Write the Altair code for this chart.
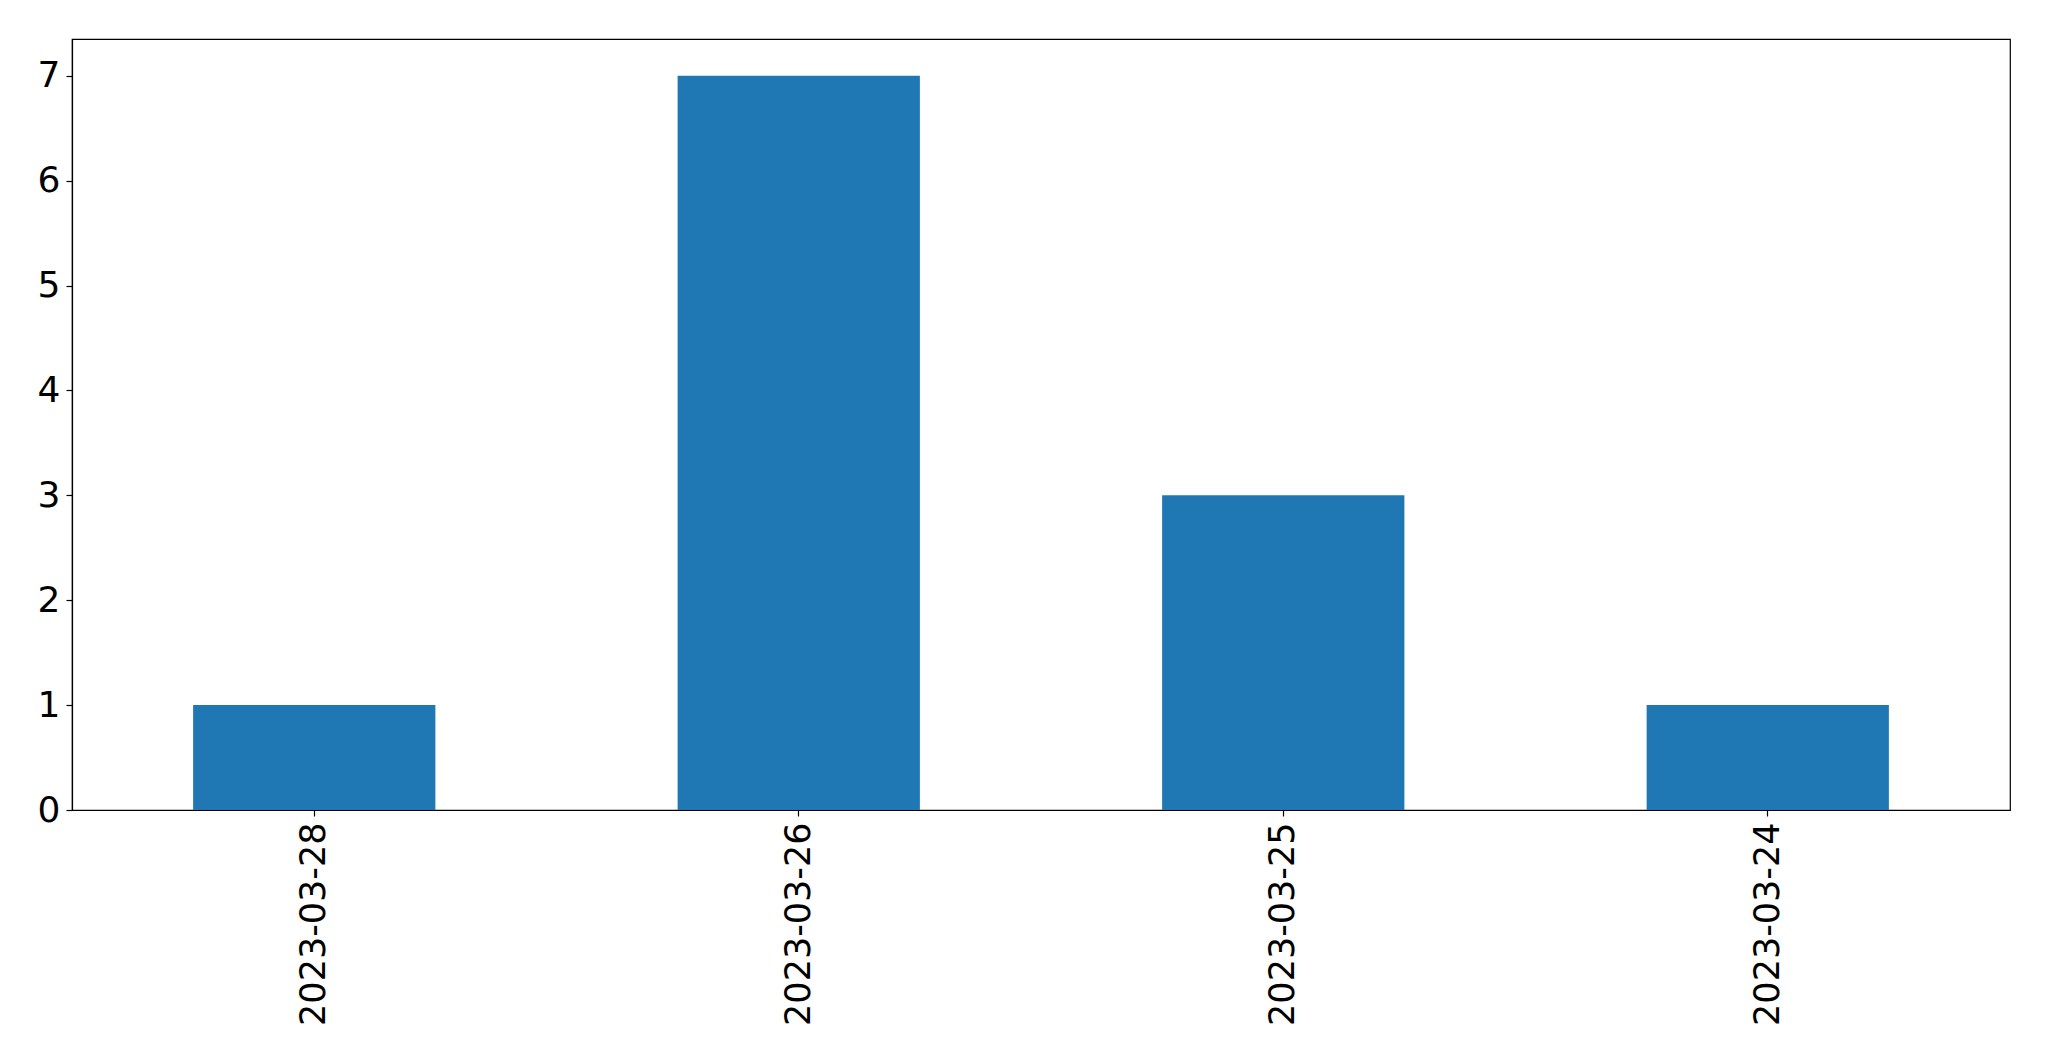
import altair as alt
import pandas as pd

dates = ["2023-03-28", "2023-03-26", "2023-03-25", "2023-03-24"]
counts = [1, 7, 3, 1]

df = pd.DataFrame({"date": dates, "count": counts})

chart = alt.Chart(df).mark_bar(color="#1f77b4").encode(
    x=alt.X("date:N", sort=dates,
            scale=alt.Scale(paddingInner=0.5, paddingOuter=0.25),
            axis=alt.Axis(title=None, labelAngle=270, labelFontSize=35,
                          labelFont="DejaVu Sans", labelColor="black",
                          labelLimit=0,
                          tickSize=6, tickColor="black", labelPadding=6,
                          domainColor="black", grid=False)),
    y=alt.Y("count:Q", scale=alt.Scale(domain=[0, 7.35], nice=False),
            axis=alt.Axis(title=None, values=[0, 1, 2, 3, 4, 5, 6, 7],
                          labelFontSize=36, labelFont="DejaVu Sans",
                          labelColor="black", tickSize=6, tickColor="black",
                          labelPadding=6, domainColor="black", grid=False)),
).properties(
    width=1938, height=771,
    autosize=alt.AutoSizeParams(type="none"),
    padding={"left": 64, "top": 31, "right": 30, "bottom": 240},
).configure_view(stroke="black", strokeWidth=1.2).configure_axis(domainWidth=1.2, tickWidth=1.2)

chart.save("out.html", embed_options={"renderer": "svg", "actions": False})
